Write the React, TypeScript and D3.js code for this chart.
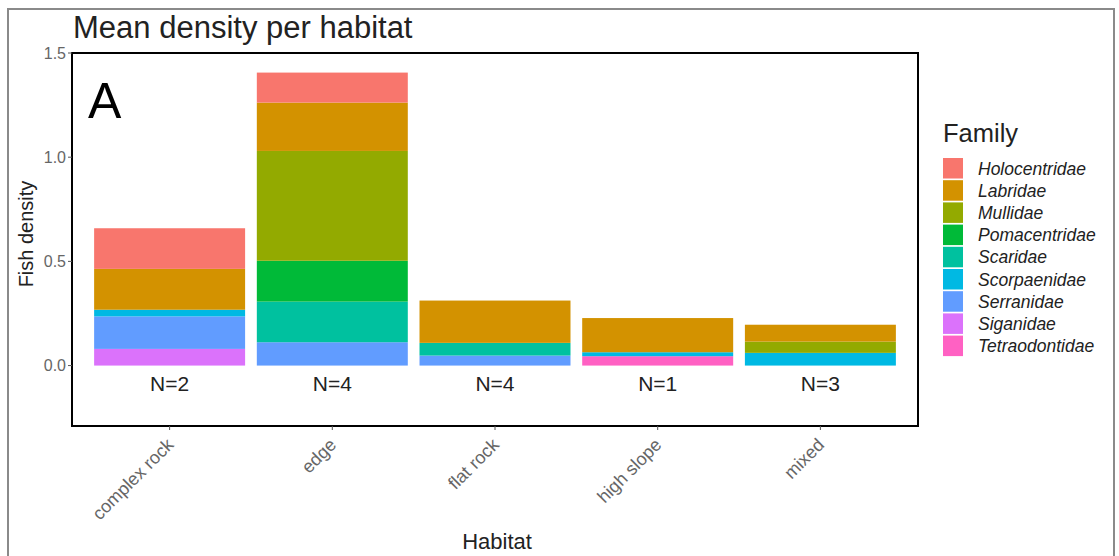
import React from "react";
import * as d3 from "d3";

const habitats = ["complex rock", "edge", "flat rock", "high slope", "mixed"];
const nLabels = ["N=2", "N=4", "N=4", "N=1", "N=3"];
const families = [
  "Holocentridae",
  "Labridae",
  "Mullidae",
  "Pomacentridae",
  "Scaridae",
  "Scorpaenidae",
  "Serranidae",
  "Siganidae",
  "Tetraodontidae",
];
const familyColors = ["#F8766D", "#D39200", "#93AA00", "#00BA38", "#00C19F", "#00B9E3", "#619CFF", "#DB72FB", "#FF61C3"];

const holocentridae = [0.195, 0.144, 0, 0, 0];
const labridae = [0.196, 0.232, 0.203, 0.164, 0.081];
const mullidae = [0, 0.527, 0, 0, 0.054];
const pomacentridae = [0, 0.196, 0, 0, 0];
const scaridae = [0, 0.195, 0.061, 0, 0];
const scorpaenidae = [0.032, 0, 0, 0.019, 0.061];
const serranidae = [0.156, 0.112, 0.048, 0, 0];
const siganidae = [0.08, 0, 0, 0, 0];
const tetraodontidae = [0, 0, 0, 0.045, 0];

const seriesValues = [
  holocentridae,
  labridae,
  mullidae,
  pomacentridae,
  scaridae,
  scorpaenidae,
  serranidae,
  siganidae,
  tetraodontidae,
];

const yTicks = [0, 0.5, 1.0, 1.5];

const FONT = "'Liberation Sans', Arial, sans-serif";

export default function App() {
  const W = 1119;
  const H = 556;
  const pL = 72, pR = 918, pT = 53, pB = 426;

  const x = d3.scaleBand<string>().domain(habitats).range([pL, pR]).paddingInner(0.072).paddingOuter(0.136);
  const y = d3.scaleLinear().domain([-0.29, 1.5]).range([pB, pT]);

  const rows = habitats.map((h, i) => {
    const r: any = { habitat: h };
    families.forEach((f, j) => (r[f] = seriesValues[j][i]));
    return r;
  });
  const stackKeys = [...families].reverse();
  const stacked = d3.stack<any>().keys(stackKeys)(rows);
  const color = d3.scaleOrdinal<string, string>().domain(families).range(familyColors);

  return (
    <svg width={W} height={H} style={{ display: "block", position: "absolute", left: 0, top: 0 }} fontFamily={FONT}>
      <rect x={0} y={0} width={W} height={H} fill="#fff" />
      <rect x={8} y={9} width={1106} height={560} fill="none" stroke="#8a8a8a" strokeWidth={2} />
      <text x={73} y={38} fontSize={31} fill="#222">Mean density per habitat</text>

      {stacked.map((s) => (
        <g key={s.key} fill={color(s.key)}>
          {s.map((d, i) => {
            const hgt = y(d[0]) - y(d[1]);
            if (hgt <= 0) return null;
            return (
              <rect key={i} x={x(habitats[i])!} y={y(d[1])} width={x.bandwidth()} height={hgt} />
            );
          })}
        </g>
      ))}

      {habitats.map((h, i) => (
        <text key={h} x={x(h)! + x.bandwidth() / 2} y={391} fontSize={21} textAnchor="middle" fill="#222">
          {nLabels[i]}
        </text>
      ))}

      <text x={88} y={118} fontSize={50} fill="#000">A</text>

      <rect x={pL} y={pT} width={pR - pL} height={pB - pT} fill="none" stroke="#000" strokeWidth={2} />

      {yTicks.map((t) => (
        <g key={t}>
          <line x1={pL - 4} x2={pL} y1={y(t)} y2={y(t)} stroke="#555" strokeWidth={1} />
          <text x={pL - 6} y={y(t) + 5.5} fontSize={16} textAnchor="end" fill="#666">
            {d3.format(".1f")(t)}
          </text>
        </g>
      ))}

      {habitats.map((h) => {
        const cx = x(h)! + x.bandwidth() / 2;
        return (
          <g key={h}>
            <line x1={cx} x2={cx} y1={pB} y2={pB + 4} stroke="#555" />
            <text
              transform={`translate(${cx + 5},${pB + 20}) rotate(-45)`}
              fontSize={18}
              textAnchor="end"
              fill="#666"
            >
              {h}
            </text>
          </g>
        );
      })}

      <text x={497} y={549} fontSize={22} textAnchor="middle" fill="#222">Habitat</text>
      <text transform={`translate(33,234) rotate(-90)`} fontSize={20} textAnchor="middle" fill="#222">Fish density</text>

      <text x={943} y={142} fontSize={25.5} fill="#222">Family</text>
      {families.map((f, i) => (
        <g key={f}>
          <rect x={943} y={158 + i * 22.2} width={20} height={20.5} fill={familyColors[i]} />
          <text x={978} y={174.5 + i * 22.2} fontSize={17.5} fontStyle="italic" fill="#222">{f}</text>
        </g>
      ))}
    </svg>
  );
}
